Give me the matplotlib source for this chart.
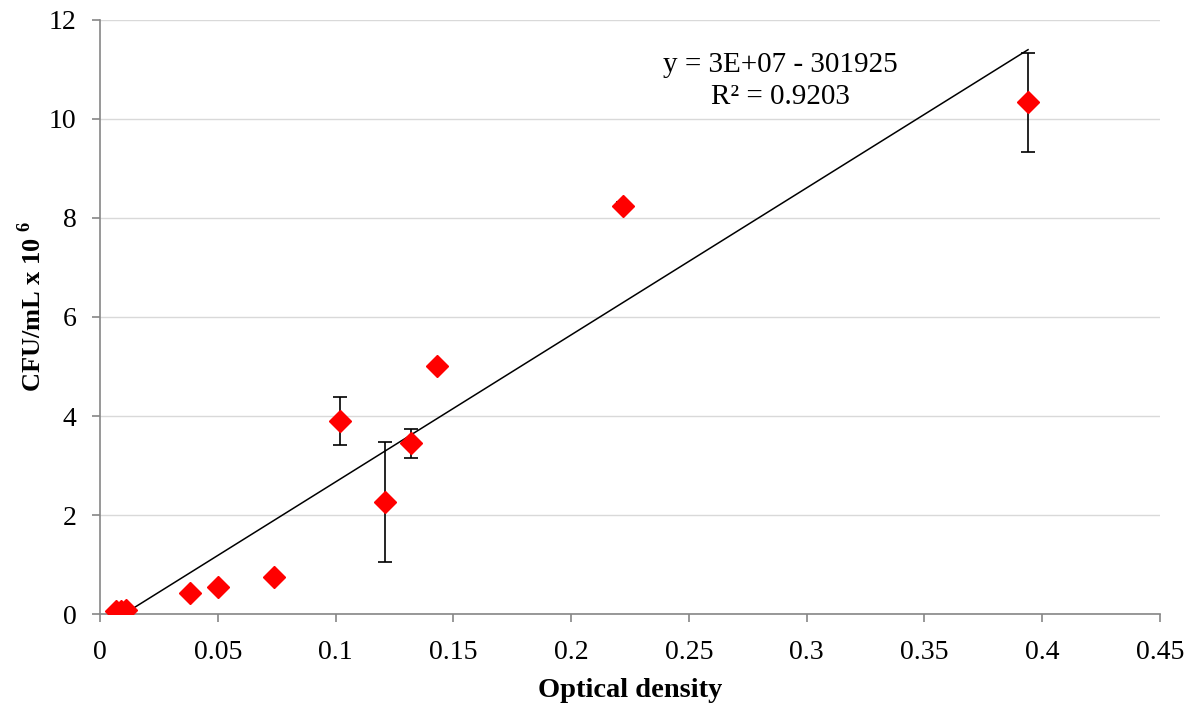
import numpy as np
import matplotlib.pyplot as plt

plt.rcParams['font.family'] = ['Liberation Serif', 'DejaVu Serif']
plt.rcParams['mathtext.fontset'] = 'custom'
plt.rcParams['mathtext.rm'] = 'Liberation Serif'
plt.rcParams['mathtext.bf'] = 'Liberation Serif:bold'

# ---- data ----
od = [0.007, 0.009, 0.011, 0.038, 0.050, 0.074, 0.102, 0.121, 0.132, 0.143, 0.222, 0.394]
cfu = [0.06, 0.07, 0.08, 0.42, 0.55, 0.75, 3.90, 2.26, 3.45, 5.01, 8.24, 10.34]
err = [0.0, 0.0, 0.0, 0.0, 0.0, 0.0, 0.48, 1.21, 0.29, 0.0, 0.08, 1.0]

slope = 29.7
intercept = -0.302
eq_text = "y = 3E+07 - 301925"
r2_text = "R² = 0.9203"

fig = plt.figure(figsize=(12.02, 7.11), dpi=100)
ax = fig.add_axes([0.0832, 0.1364, 0.8818, 0.8355])

ax.errorbar(od, cfu, yerr=err, fmt='none', ecolor='black', elinewidth=1.2,
            capsize=5, capthick=1.2, zorder=2)
ax.plot(od, cfu, linestyle='none', marker='D', markersize=11,
        color='#ff0000', markeredgecolor='#ff0000', zorder=3)

# linear trendline over the data range
xl = np.array([min(od) + 0.004, max(od)])
ax.plot(xl, slope * xl + intercept, color='black', linewidth=1.1, zorder=2)

ax.text(0.2887, 11.1, eq_text, ha='center', va='center', fontsize=21)
ax.text(0.2887, 10.44, r2_text, ha='center', va='center', fontsize=21)

ax.set_xlim(0, 0.45)
ax.set_ylim(0, 12)
ax.set_xticks(np.arange(0, 0.451, 0.05))
ax.set_xticklabels(['0', '0.05', '0.1', '0.15', '0.2', '0.25', '0.3', '0.35', '0.4', '0.45'])
ax.set_yticks(range(0, 13, 2))

ax.grid(axis='y', color='#d9d9d9', linewidth=1)
ax.set_axisbelow(True)
for s in ['top', 'right']:
    ax.spines[s].set_visible(False)
for s in ['left', 'bottom']:
    ax.spines[s].set_color('#868686')
    ax.spines[s].set_linewidth(1.2)

ax.tick_params(axis='both', labelsize=20, color='#868686', length=6, width=1.2)
ax.tick_params(axis='y', pad=11)
ax.tick_params(axis='x', pad=13)

ax.set_xlabel('Optical density', fontsize=20.5, fontweight='bold', labelpad=9)
fig.text(32 / 1202, 1 - 306 / 711, r'CFU/mL x 10 $^{\mathbf{6}}$', rotation=90,
         ha='center', va='center', fontsize=19, fontweight='bold')

fig.savefig('out.png', dpi=100)
